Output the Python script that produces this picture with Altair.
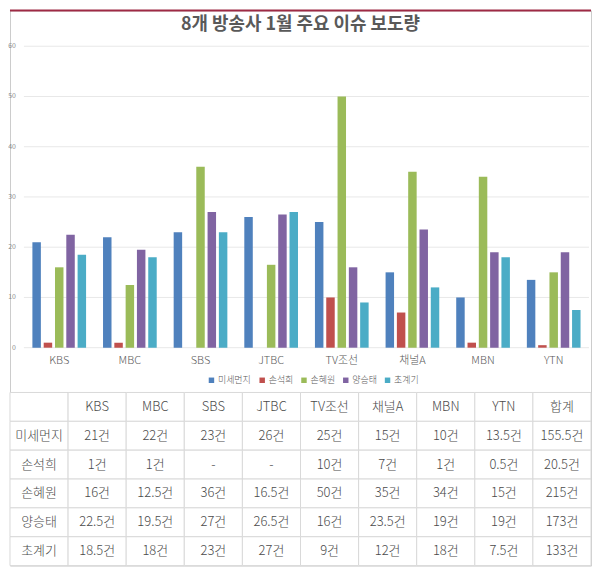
import altair as alt
import pandas as pd

# ---- data ----
stations = ["KBS", "MBC", "SBS", "JTBC", "TV조선", "채널A", "MBN", "YTN"]
issues = ["미세먼지", "손석희", "손혜원", "양승태", "초계기"]
v_dust = [21, 22, 23, 26, 25, 15, 10, 13.5]
v_sohn_sh = [1, 1, 0, 0, 10, 7, 1, 0.5]
v_sohn_hw = [16, 12.5, 36, 16.5, 50, 35, 34, 15]
v_yang = [22.5, 19.5, 27, 26.5, 16, 23.5, 19, 19]
v_patrol = [18.5, 18, 23, 27, 9, 12, 18, 7.5]
totals = [155.5, 20.5, 215, 173, 133]
y_ticks = [0, 10, 20, 30, 40, 50, 60]
total_label = "합계"
title_text = "8개 방송사 1월 주요 이슈 보도량"
colors = ["#4F81BD", "#C0504D", "#9BBB59", "#8064A2", "#4BACC6"]

series = [v_dust, v_sohn_sh, v_sohn_hw, v_yang, v_patrol]

W, H = 584, 558
FONT = "Noto Sans CJK KR"

bars_df = pd.DataFrame(
    [{"station": s, "issue": iss, "value": vals[i]}
     for iss, vals in zip(issues, series) for i, s in enumerate(stations)]
)
tick_df = pd.DataFrame({"tick": y_ticks})
st_df = pd.DataFrame({"station": stations})


def fmt(v):
    return "-" if v == 0 else f"{v:g}건"


cols = ["label"] + stations + [total_label]
rows = ["header"] + issues
cells = []
for c in cols:
    cells.append({"row": "header", "col": c, "text": "" if c == "label" else c})
for iss, vals, tot in zip(issues, series, totals):
    cells.append({"row": iss, "col": "label", "text": iss})
    for s, v in zip(stations, vals):
        cells.append({"row": iss, "col": s, "text": fmt(v)})
    cells.append({"row": iss, "col": total_label, "text": fmt(tot)})
table_df = pd.DataFrame(cells)

# ---- bar chart scales ----
xs = alt.Scale(domain=stations, range=[14, 582], paddingInner=0.24, paddingOuter=0.12)
ys = alt.Scale(domain=[0, 60], range=[339, 36])

grid = alt.Chart(tick_df).mark_rule(color="#e8e8e8", strokeWidth=1).encode(
    y=alt.Y("tick:Q", scale=ys, axis=None), x=alt.value(14), x2=alt.value(582)
)
bars = alt.Chart(bars_df).mark_bar().encode(
    x=alt.X("station:N", sort=stations, scale=xs, axis=None),
    xOffset=alt.XOffset("issue:N", sort=issues,
                        scale=alt.Scale(domain=issues, paddingInner=0.25, paddingOuter=0)),
    y=alt.Y("value:Q", scale=ys, axis=None),
    color=alt.Color(
        "issue:N", sort=issues,
        scale=alt.Scale(domain=issues, range=colors),
        legend=alt.Legend(
            orient="none", legendX=198, legendY=367, direction="horizontal",
            title=None, symbolType="square", symbolSize=30, symbolStrokeWidth=0,
            labelFontSize=9, labelColor="#595959", columnPadding=6, labelOffset=2,
            labelFontWeight=300,
        ),
    ),
)
tick_labels = alt.Chart(tick_df).mark_text(
    align="right", baseline="middle", fontSize=7, color="#8c8c8c"
).encode(y=alt.Y("tick:Q", scale=ys, axis=None), x=alt.value(6), text="tick:Q")
st_labels = alt.Chart(st_df).mark_text(
    baseline="middle", fontSize=11, color="#595959", fontWeight=300
).encode(x=alt.X("station:N", sort=stations, scale=xs, axis=None),
         y=alt.value(352), text="station:N")

bar_part = alt.layer(grid, bars, tick_labels, st_labels)

# ---- table ----
tx = alt.Scale(domain=cols, range=[0, W], paddingInner=0, paddingOuter=0)
ty = alt.Scale(domain=rows, range=[384, 558], paddingInner=0, paddingOuter=0)
cell_rect = alt.Chart(table_df).mark_rect(fill="white", stroke="#d9d9d9", strokeWidth=1).encode(
    x=alt.X("col:N", sort=cols, scale=tx, axis=None),
    y=alt.Y("row:N", sort=rows, scale=ty, axis=None),
)
cell_text = alt.Chart(table_df).mark_text(
    fontSize=13, color="#4a4a4a", baseline="middle", fontWeight=300
).encode(
    x=alt.X("col:N", sort=cols, scale=tx, axis=None),
    y=alt.Y("row:N", sort=rows, scale=ty, axis=None),
    text="text:N",
)
table_part = alt.layer(cell_rect, cell_text)

# ---- decoration ----
title = alt.Chart(pd.DataFrame({"t": [title_text]})).mark_text(
    fontSize=18, fontWeight="bold", color="#595959", baseline="middle"
).encode(x=alt.value(W / 2), y=alt.value(15), text="t:N")
red_line = alt.Chart(pd.DataFrame({"a": [0]})).mark_rule(color="#9e2a44", strokeWidth=2).encode(
    x=alt.value(0), x2=alt.value(W), y=alt.value(0)
)

chart = (
    alt.layer(bar_part, table_part, title, red_line)
    .resolve_scale(x="independent", y="independent")
    .properties(width=W, height=H, padding=0)
    .configure(font=FONT)
    .configure_view(stroke="#cccccc", strokeWidth=1)
)

chart.save("out.html", embed_options={"renderer": "svg", "actions": False})
